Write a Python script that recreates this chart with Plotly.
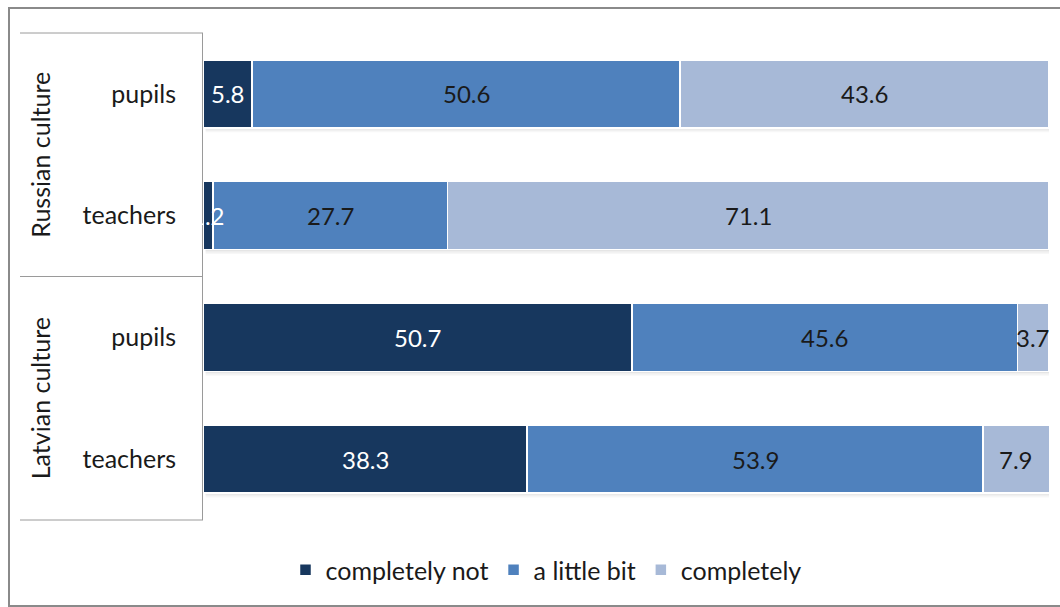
import plotly.graph_objects as go

# Survey shares (%) per respondent group
rows = ["pupils", "teachers", "pupils", "teachers"]
groups = ["Russian culture", "Latvian culture"]
series_names = ["completely not", "a little bit", "completely"]
completely_not = [5.8, 1.2, 50.7, 38.3]
a_little_bit = [50.6, 27.7, 45.6, 53.9]
completely = [43.6, 71.1, 3.7, 7.9]

colors = ["#17375E", "#4F81BD", "#A7B9D7"]
label_colors = ["white", "#1a1a1a", "#1a1a1a"]
FONT = "Lato"
FS = 25

values = [completely_not, a_little_bit, completely]
ypos = list(range(len(rows)))
totals = [sum(v[i] for v in values) for i in ypos]

fig = go.Figure()
for name, vals, col in zip(series_names, values, colors):
    fig.add_trace(go.Bar(
        y=ypos, x=vals, name=name, orientation="h",
        marker=dict(color=col, line=dict(color="white", width=1.5)),
        hoverinfo="x+name",
    ))

# value labels centred on each segment
annotations = []
for i in ypos:
    start = 0.0
    for s, vals in enumerate(values):
        v = vals[i]
        annotations.append(dict(
            x=start + v / 2, y=i, xref="x", yref="y", text=f"{v:.1f}",
            showarrow=False, font=dict(family=FONT, size=FS - 1, color=label_colors[s]),
        ))
        start += v

# group titles (rotated) on the left
plot_w = 1060 - 203 - 11
for g, title in enumerate(groups):
    annotations.append(dict(
        x=(40 - 203) / plot_w, y=2 * g + 0.5, xref="paper", yref="y",
        xanchor="center", yanchor="middle",
        text=title, textangle=-90, showarrow=False,
        font=dict(family=FONT, size=FS, color="#1a1a1a"),
    ))

line_col = "#9a9a9a"
x_left = (20 - 203) / plot_w
shapes = [
    dict(type="line", xref="paper", yref="paper", x0=x_left, x1=0, y0=yy, y1=yy,
         line=dict(color=line_col, width=1))
    for yy in (0, 0.5, 1)
]

# soft shadow under each bar
for i, tot in zip(ypos, totals):
    for k, a in enumerate((0.10, 0.06, 0.03)):
        shapes.append(dict(
            type="rect", xref="x", yref="y", x0=0.3, x1=tot,
            y0=i + 0.28 + k * 0.012, y1=i + 0.292 + k * 0.012,
            line=dict(width=0), fillcolor=f"rgba(0,0,0,{a})", layer="below",
        ))

plot_h = 607 - 33 - 87
shapes.append(dict(
    type="rect", xref="paper", yref="paper",
    x0=(9 - 203) / plot_w, x1=(1066 - 203) / plot_w,
    y0=(520 - 606) / plot_h, y1=(520 - 8) / plot_h,
    line=dict(color="#8a8a8a", width=2), fillcolor="rgba(0,0,0,0)", layer="below",
))

fig.update_layout(
    barmode="stack",
    bargap=0.44,
    width=1060, height=607,
    margin=dict(l=203, r=11, t=33, b=87),
    paper_bgcolor="white", plot_bgcolor="white",
    font=dict(family=FONT, size=FS, color="#1a1a1a"),
    xaxis=dict(range=[0, 100], visible=False, fixedrange=True),
    yaxis=dict(
        range=[3.5, -0.5], tickvals=ypos, ticktext=rows,
        showline=True, linecolor=line_col, linewidth=1,
        showgrid=False, zeroline=False, ticks="", ticklabelstandoff=21,
        tickfont=dict(family=FONT, size=FS, color="#1a1a1a"),
    ),
    legend=dict(
        orientation="h", x=(546 - 203) / plot_w, xanchor="center",
        y=(520 - 570) / plot_h, yanchor="middle",
        font=dict(family=FONT, size=FS, color="#1a1a1a"),
        traceorder="normal",
    ),
    annotations=annotations,
    shapes=shapes,
    showlegend=True,
)

fig.write_html("out.html")
